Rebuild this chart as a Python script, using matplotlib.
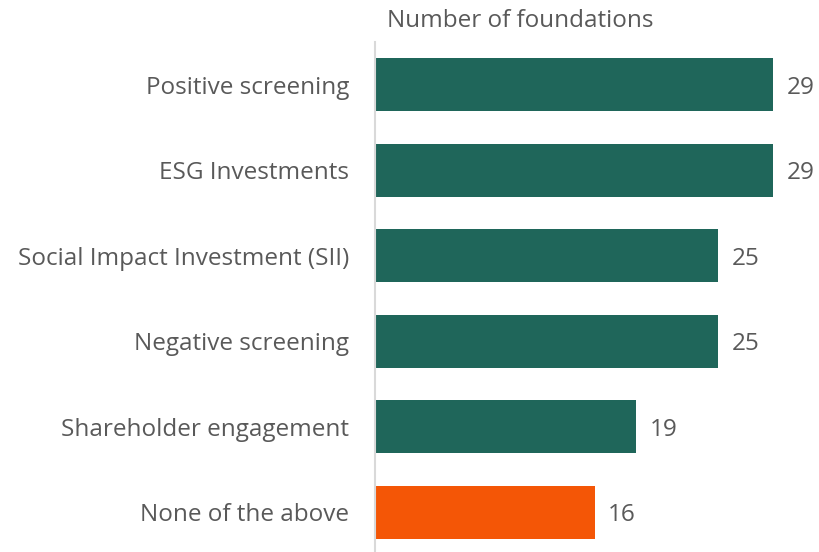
import matplotlib.pyplot as plt

categories = ["Positive screening", "ESG Investments", "Social Impact Investment (SII)",
              "Negative screening", "Shareholder engagement", "None of the above"]
values = [29, 29, 25, 25, 19, 16]
bar_colors = ["#1F665A"] * 5 + ["#F45606"]

plt.rcParams['font.family'] = ['Open Sans', 'DejaVu Sans']
text_color = "#595959"

fig = plt.figure(figsize=(8.19, 5.52), dpi=100)
ax = fig.add_axes([375 / 819, -3 / 552, 439 / 819, 513 / 552])

y = list(range(len(categories)))
bars = ax.barh(y, values, height=0.62, color=bar_colors)
ax.set_xlim(0, 32)
ax.set_ylim(len(categories) - 0.5, -0.5)

ax.set_yticks(y)
ax.set_yticklabels(categories, fontsize=17.5, color=text_color)
ax.tick_params(axis='y', length=0, pad=18.5)
ax.set_xticks([])

for s in ['top', 'right', 'bottom']:
    ax.spines[s].set_visible(False)
ax.spines['left'].set_color("#D9D9D9")
ax.spines['left'].set_linewidth(1.5)

for b, v in zip(bars, values):
    ax.text(v + 1.0, b.get_y() + b.get_height() / 2, str(v), va='center_baseline', ha='left',
            fontsize=17.5, color=text_color)

fig.text(520 / 819, 1 - 21 / 552, "Number of foundations", ha='center', va='center',
         fontsize=17.5, color=text_color)

fig.savefig("out.png", dpi=100)
